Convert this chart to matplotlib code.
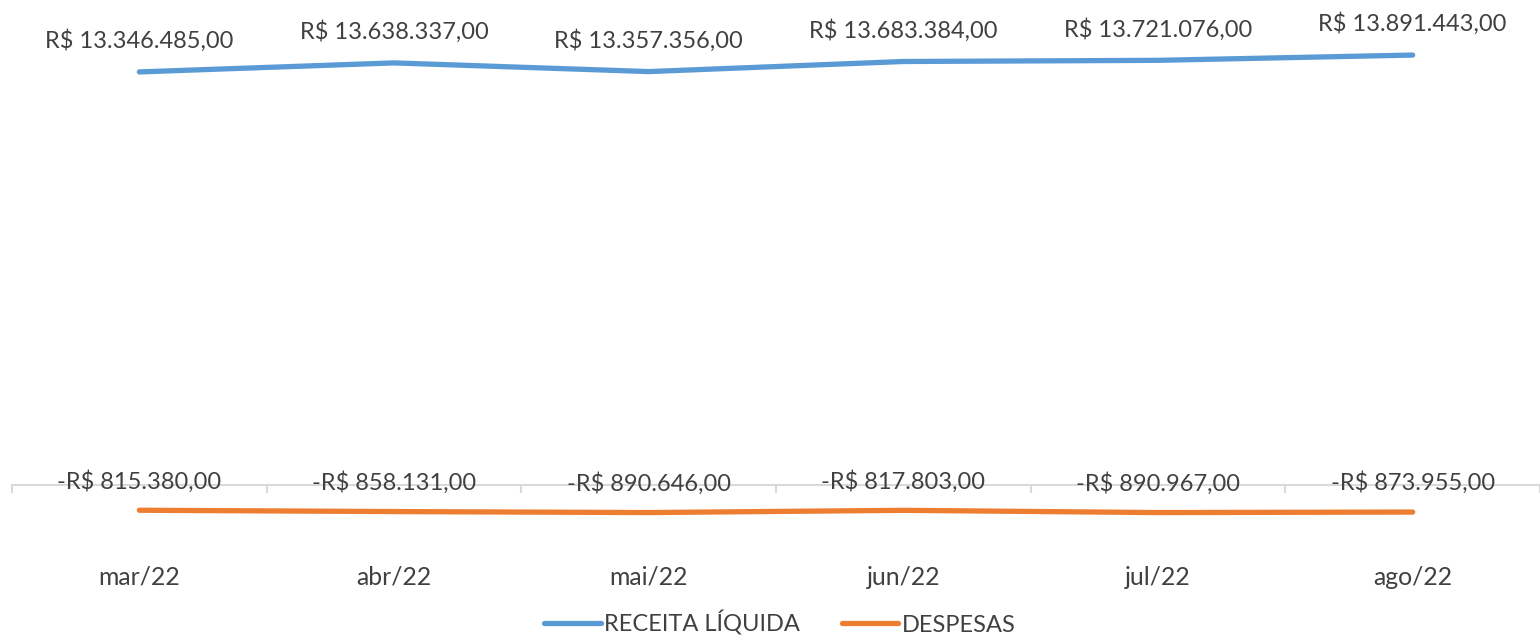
import numpy as np
import matplotlib.pyplot as plt

meses = ["mar/22", "abr/22", "mai/22", "jun/22", "jul/22", "ago/22"]
receita = [13346485, 13638337, 13357356, 13683384, 13721076, 13891443]
despesas = [-815380, -858131, -890646, -817803, -890967, -873955]

AZUL = "#5B9BD5"
LARANJA = "#ED7D31"
TEXTO = "#404040"
FONTE = 17

plt.rcParams["font.family"] = ["Lato", "DejaVu Sans"]


def formata_real(v):  # formato brasileiro: -R$ 815.380,00
    s = f"{abs(v):,.2f}".replace(",", "X").replace(".", ",").replace("X", ".")
    return ("-R$ " if v < 0 else "R$ ") + s


fig = plt.figure(figsize=(15.4, 6.37), dpi=100)
W, H = 1540, 637
y0, y1 = -2e6, 15e6
escala = 30.95 / 1e6
base_px = 485 + 2e6 * escala
alt_px = (y1 - y0) * escala
ax = fig.add_axes([12 / W, (H - base_px) / H, (W - 12) / W, alt_px / H])

x = np.arange(len(meses))
ax.plot(x, receita, color=AZUL, lw=3.8, solid_capstyle="round", label="RECEITA LÍQUIDA")
ax.plot(x, despesas, color=LARANJA, lw=3.8, solid_capstyle="round", label="DESPESAS")

for xi, v in zip(x, receita):
    ax.annotate(formata_real(v), (xi, v), xytext=(0, 22.5), textcoords="offset points",
                ha="center", va="center", fontsize=FONTE, color=TEXTO)
for xi, v in zip(x, despesas):
    ax.annotate(formata_real(v), (xi, v), xytext=(0, 21), textcoords="offset points",
                ha="center", va="center", fontsize=FONTE, color=TEXTO)

ax.set_xlim(-0.5, len(meses) - 0.5)
ax.set_ylim(y0, y1)
ax.set_yticks([])
for lado in ["left", "right", "top"]:
    ax.spines[lado].set_visible(False)
ax.spines["bottom"].set_position(("data", 0))
ax.spines["bottom"].set_color("#D9D9D9")
ax.spines["bottom"].set_linewidth(1.5)

ax.set_xticks(x)
ax.set_xticklabels(meses, fontsize=FONTE + 0.8, color=TEXTO)
ax.set_xticks(np.arange(-0.5, len(meses), 1), minor=True)
ax.tick_params(axis="x", which="major", length=0, pad=58.3)
ax.tick_params(axis="x", which="minor", length=5.5, width=1.5, color="#D9D9D9", direction="out")

fig.legend(loc="center", bbox_to_anchor=(780 / W, 1 - 623 / H), ncol=2, frameon=False,
           fontsize=FONTE, handlelength=2.4, handletextpad=0.15, columnspacing=1.75,
           labelcolor=TEXTO)

fig.savefig("out.png", dpi=100)
